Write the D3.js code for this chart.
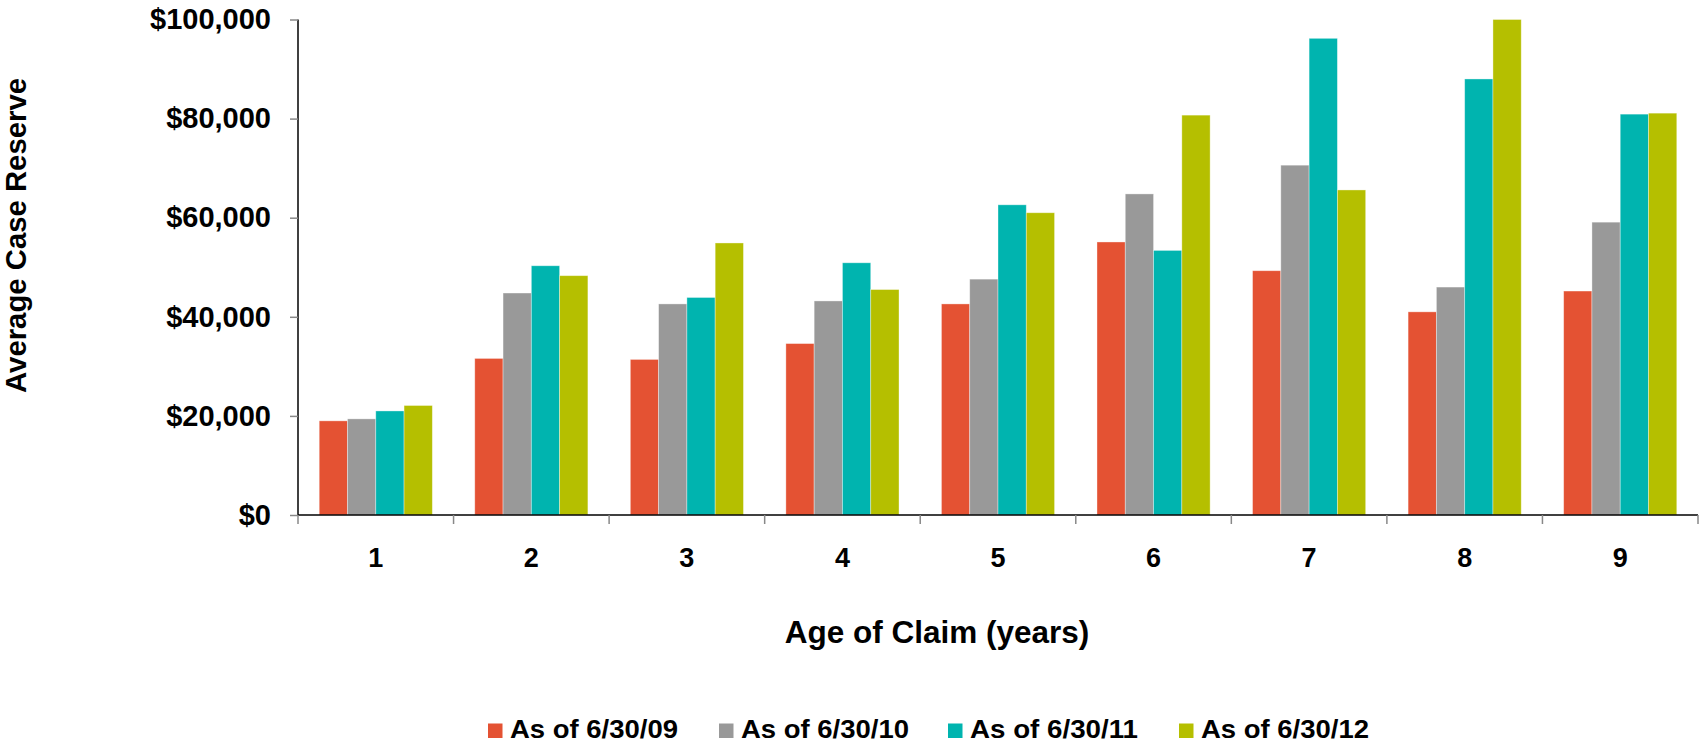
<!DOCTYPE html>
<html>
<head>
<meta charset="utf-8">
<script src="https://cdn.jsdelivr.net/npm/d3@7"></script>
<style>
  html, body { margin: 0; padding: 0; background: #fff; }
  svg { display: block; font-family: "Liberation Sans", Arial, sans-serif; }
</style>
</head>
<body>
<svg id="chart" width="1700" height="747"></svg>
<script>
const categories = ["1", "2", "3", "4", "5", "6", "7", "8", "9"];
const seriesNames = ["As of 6/30/09", "As of 6/30/10", "As of 6/30/11", "As of 6/30/12"];
const s2009 = [19000, 31600, 31400, 34600, 42600, 55100, 49300, 41000, 45200];
const s2010 = [19400, 44800, 42600, 43200, 47600, 64800, 70600, 46000, 59100];
const s2011 = [21000, 50300, 43900, 50900, 62600, 53400, 96200, 88000, 80900];
const s2012 = [22100, 48300, 54900, 45500, 61000, 80700, 65600, 100000, 81100];
const seriesColors = ["#E45233", "#999999", "#00B4AF", "#B5BF00"];
const yTicks = [0, 20000, 40000, 60000, 80000, 100000];

const seriesValues = [s2009, s2010, s2011, s2012];
const svg = d3.select("#chart");

const x0 = d3.scaleBand().domain(categories).range([298, 1698]).paddingInner(0).paddingOuter(0);
const x1 = d3.scaleBand().domain(seriesNames).range([0, x0.bandwidth()]).paddingInner(0).paddingOuter(0.75);
const y = d3.scaleLinear().domain([0, 100000]).range([515, 19.5]);

// bars
seriesNames.forEach((name, si) => {
  svg.append("g").selectAll("rect")
    .data(categories.map((c, i) => ({ c, v: seriesValues[si][i] })))
    .join("rect")
    .attr("x", d => x0(d.c) + x1(name))
    .attr("y", d => y(d.v))
    .attr("width", x1.bandwidth())
    .attr("height", d => y(0) - y(d.v))
    .attr("fill", seriesColors[si])
    .attr("stroke", "#ffffff")
    .attr("stroke-opacity", 0.45)
    .attr("stroke-width", 0.8);
});

// y axis
const yAxis = svg.append("g")
  .attr("transform", "translate(298,0)")
  .call(d3.axisLeft(y).tickValues(yTicks).tickSize(8).tickPadding(19)
    .tickFormat(d => "$" + d3.format(",")(d)));
yAxis.select(".domain").attr("stroke", "#000").attr("stroke-width", 1.5).attr("d", "M0,19.5V515");
yAxis.selectAll(".tick line").attr("stroke", "#888").attr("stroke-width", 1.5);
yAxis.selectAll(".tick text")
  .attr("fill", "#000").attr("font-size", 29).attr("font-weight", "bold")
  .attr("font-family", "'Liberation Sans', Arial, sans-serif");

// x axis
const xAxis = svg.append("g")
  .attr("transform", "translate(0,515)")
  .call(d3.axisBottom(x0).tickSize(0).tickPadding(33));
xAxis.select(".domain").attr("stroke", "#000").attr("stroke-width", 1.5).attr("d", "M298,0H1698");
xAxis.selectAll(".tick text")
  .attr("fill", "#000").attr("font-size", 27).attr("font-weight", "bold")
  .attr("font-family", "'Liberation Sans', Arial, sans-serif");
// boundary ticks
const bounds = categories.map(c => x0(c)).concat([x0(categories[categories.length - 1]) + x0.bandwidth()]);
svg.append("g").selectAll("line").data(bounds).join("line")
  .attr("x1", d => d).attr("x2", d => d)
  .attr("y1", 515).attr("y2", 524)
  .attr("stroke", "#888").attr("stroke-width", 1.5);

// axis titles
svg.append("text")
  .attr("x", 937).attr("y", 643)
  .attr("text-anchor", "middle")
  .attr("font-size", 31.5).attr("font-weight", "bold")
  .text("Age of Claim (years)");

svg.append("text")
  .attr("transform", "translate(26,235.5) rotate(-90)")
  .attr("text-anchor", "middle")
  .attr("font-size", 29).attr("font-weight", "bold")
  .attr("textLength", 315).attr("lengthAdjust", "spacingAndGlyphs")
  .text("Average Case Reserve");

// legend
const legendX = [488, 719, 948, 1179];
const legend = svg.append("g");
seriesNames.forEach((name, i) => {
  const g = legend.append("g").attr("transform", `translate(${legendX[i]},0)`);
  g.append("rect").attr("x", 0).attr("y", 723.5).attr("width", 14.5).attr("height", 14.5)
    .attr("fill", seriesColors[i]);
  g.append("text")
    .attr("x", 22).attr("y", 738)
    .attr("font-size", 26).attr("font-weight", "bold")
    .attr("textLength", 168).attr("lengthAdjust", "spacingAndGlyphs")
    .text(name);
});
</script>
</body>
</html>
